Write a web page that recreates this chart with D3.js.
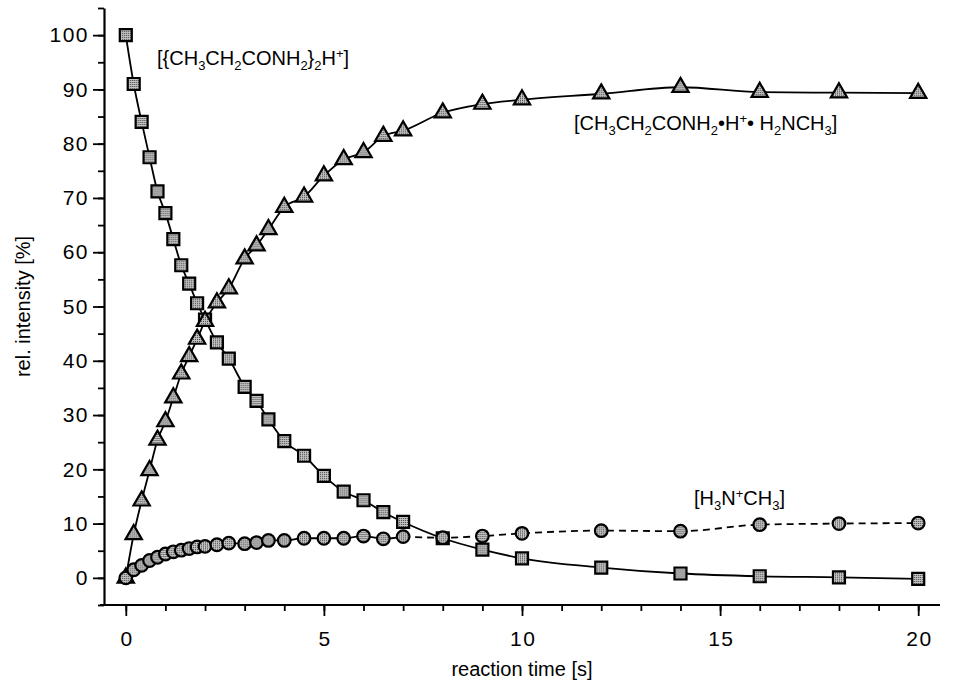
<!DOCTYPE html>
<meta charset="utf-8">
<style>
    body { margin: 0; background: #fff; }
    text { font-family: "Liberation Sans", Arial, sans-serif; fill: #000; }
</style>
<body>
<script src="https://cdn.jsdelivr.net/npm/d3@7"></script>
<script>

    // reaction times [s]
    var times = [0, 0.2, 0.4, 0.6, 0.8, 1.0, 1.2, 1.4, 1.6, 1.8, 2.0, 2.3, 2.6, 3.0, 3.3, 3.6,
                 4.0, 4.5, 5.0, 5.5, 6.0, 6.5, 7.0, 8, 9, 10, 12, 14, 16, 18, 20];

    // [{CH3CH2CONH2}2H+]
    var dimer = [100, 91, 84, 77.5, 71.2, 67.2, 62.4, 57.6, 54.2, 50.6, 47.6, 43.4, 40.4, 35.2, 32.6, 29.2,
                 25.2, 22.5, 18.8, 15.9, 14.3, 12.1, 10.3, 7.3, 5.2, 3.6, 1.9, 0.8, 0.3, 0.1, -0.2];

    // [CH3CH2CONH2·H+·H2NCH3]
    var mixed = [0, 8, 14.2, 19.8, 25.4, 28.8, 33.2, 37.6, 40.8, 44, 47.3, 50.7, 53.3, 58.8, 61.2, 64.2,
                 68.3, 70.2, 74.1, 77.1, 78.4, 81.4, 82.4, 85.7, 87.3, 88.1, 89.2, 90.4, 89.5, 89.4, 89.3];

    // [H3N+CH3]
    var amine = [0, 1.5, 2.3, 3.2, 3.8, 4.4, 4.8, 5.1, 5.4, 5.7, 5.8, 6.1, 6.4, 6.3, 6.5, 6.9,
                 6.9, 7.3, 7.3, 7.3, 7.7, 7.2, 7.6, 7.4, 7.7, 8.2, 8.7, 8.6, 9.8, 10.0, 10.1];

    var xTicks = [0, 5, 10, 15, 20];
    var yTicks = [0, 10, 20, 30, 40, 50, 60, 70, 80, 90, 100];

    var width = 953, height = 683;

    var svg = d3.select("body").append("svg")
        .attr("width", width)
        .attr("height", height);

    // halftone fill of the markers
    var pat = svg.append("defs").append("pattern")
        .attr("id", "dots")
        .attr("width", 2).attr("height", 2)
        .attr("patternUnits", "userSpaceOnUse");
    pat.append("rect").attr("width", 2).attr("height", 2).attr("fill", "#c4c4c4");
    pat.append("rect").attr("width", 1).attr("height", 1).attr("fill", "#3c3c3c");

    var x = d3.scaleLinear().domain([-0.55, 20.55]).range([104, 940]);
    var y = d3.scaleLinear().domain([-5, 105]).range([605, 8]);

    // axes
    function styleAxis(g) {
        g.select(".domain").attr("stroke", "#000").attr("stroke-width", 2.2);
        g.selectAll(".tick line").attr("stroke", "#000").attr("stroke-width", 1.8);
        g.selectAll("text").style("font-family", "Liberation Sans, Arial, sans-serif")
            .style("font-size", "21px").style("letter-spacing", "1.5px").attr("fill", "#000");
    }

    var gx = svg.append("g").attr("transform", "translate(0,605)");
    gx.call(d3.axisBottom(x).tickValues(d3.range(0, 21, 1)).tickSize(6).tickFormat(""));
    gx.select(".domain").remove();
    gx.selectAll(".tick line").attr("stroke", "#000").attr("stroke-width", 1.8);
    var gx2 = svg.append("g").attr("transform", "translate(0,605)");
    gx2.call(d3.axisBottom(x).tickValues(xTicks).tickSize(11).tickPadding(15).tickSizeOuter(0));
    styleAxis(gx2);
    gx2.select(".domain").attr("d", "M100,0H940");
    gx2.selectAll("text").attr("dx", "0.75px");

    var gy = svg.append("g").attr("transform", "translate(104,0)");
    gy.call(d3.axisLeft(y).tickValues(d3.range(-5, 106, 5)).tickSize(6).tickFormat(""));
    gy.select(".domain").remove();
    gy.selectAll(".tick line").attr("stroke", "#000").attr("stroke-width", 1.8);
    var gy2 = svg.append("g").attr("transform", "translate(104,0)");
    gy2.call(d3.axisLeft(y).tickValues(yTicks).tickSize(11).tickPadding(4).tickSizeOuter(0));
    styleAxis(gy2);

    svg.append("text")
        .attr("x", x(10)).attr("y", 676)
        .attr("text-anchor", "middle")
        .style("font-size", "20px")
        .text("reaction time [s]");

    svg.append("text")
        .attr("transform", "translate(30," + y(50) + ") rotate(-90)")
        .attr("text-anchor", "middle")
        .style("font-size", "20px")
        .text("rel. intensity [%]");

    // lines
    function pts(vals) { return times.map(function(t, i) { return [t, vals[i]]; }); }
    var line = d3.line()
        .x(function(d) { return x(d[0]); })
        .y(function(d) { return y(d[1]); })
        .curve(d3.curveMonotoneX);

    var lines = svg.append("g").attr("fill", "none").attr("stroke", "#000").attr("stroke-width", 1.8);
    lines.append("path").attr("d", line(pts(dimer)));
    lines.append("path").attr("d", line(pts(mixed)));
    var am = pts(amine);
    var cut = times.indexOf(7.0);
    lines.append("path").attr("d", line(am.slice(0, cut + 1)));
    lines.append("path").attr("d", line(am.slice(cut))).attr("stroke-dasharray", "7,5");

    // markers
    function markers(vals, type, size) {
        svg.append("g").selectAll("path")
            .data(pts(vals))
            .enter().append("path")
            .attr("transform", function(d) { return "translate(" + x(d[0]) + "," + y(d[1]) + ")"; })
            .attr("d", d3.symbol().type(type).size(size))
            .attr("fill", "url(#dots)")
            .attr("stroke", "#000")
            .attr("stroke-width", 2.2);
    }
    markers(dimer, d3.symbolSquare, 144);
    markers(mixed, d3.symbolTriangle, 115);
    markers(amine, d3.symbolCircle, 125);

    // species labels with sub/superscripts
    function label(px, py, parts) {
        var t = svg.append("text").attr("x", px).attr("y", py).style("font-size", "20px");
        var shift = 0;
        parts.forEach(function(p) {
            var target = p[1] === "b" ? 5 : p[1] === "p" ? -7 : 0;
            t.append("tspan")
                .attr("dy", target - shift)
                .style("font-size", p[1] ? "13px" : "20px")
                .text(p[0]);
            shift = target;
        });
    }
    label(157, 65, [["[{CH"], ["3", "b"], ["CH"], ["2", "b"], ["CONH"], ["2", "b"], ["}"], ["2", "b"], ["H"], ["+", "p"], ["]"]]);
    label(574, 130, [["[CH"], ["3", "b"], ["CH"], ["2", "b"], ["CONH"], ["2", "b"], ["\u2022H"], ["+", "p"], ["\u2022 H"], ["2", "b"], ["NCH"], ["3", "b"], ["]"]]);
    label(694, 505, [["[H"], ["3", "b"], ["N"], ["+", "p"], ["CH"], ["3", "b"], ["]"]]);

</script>
